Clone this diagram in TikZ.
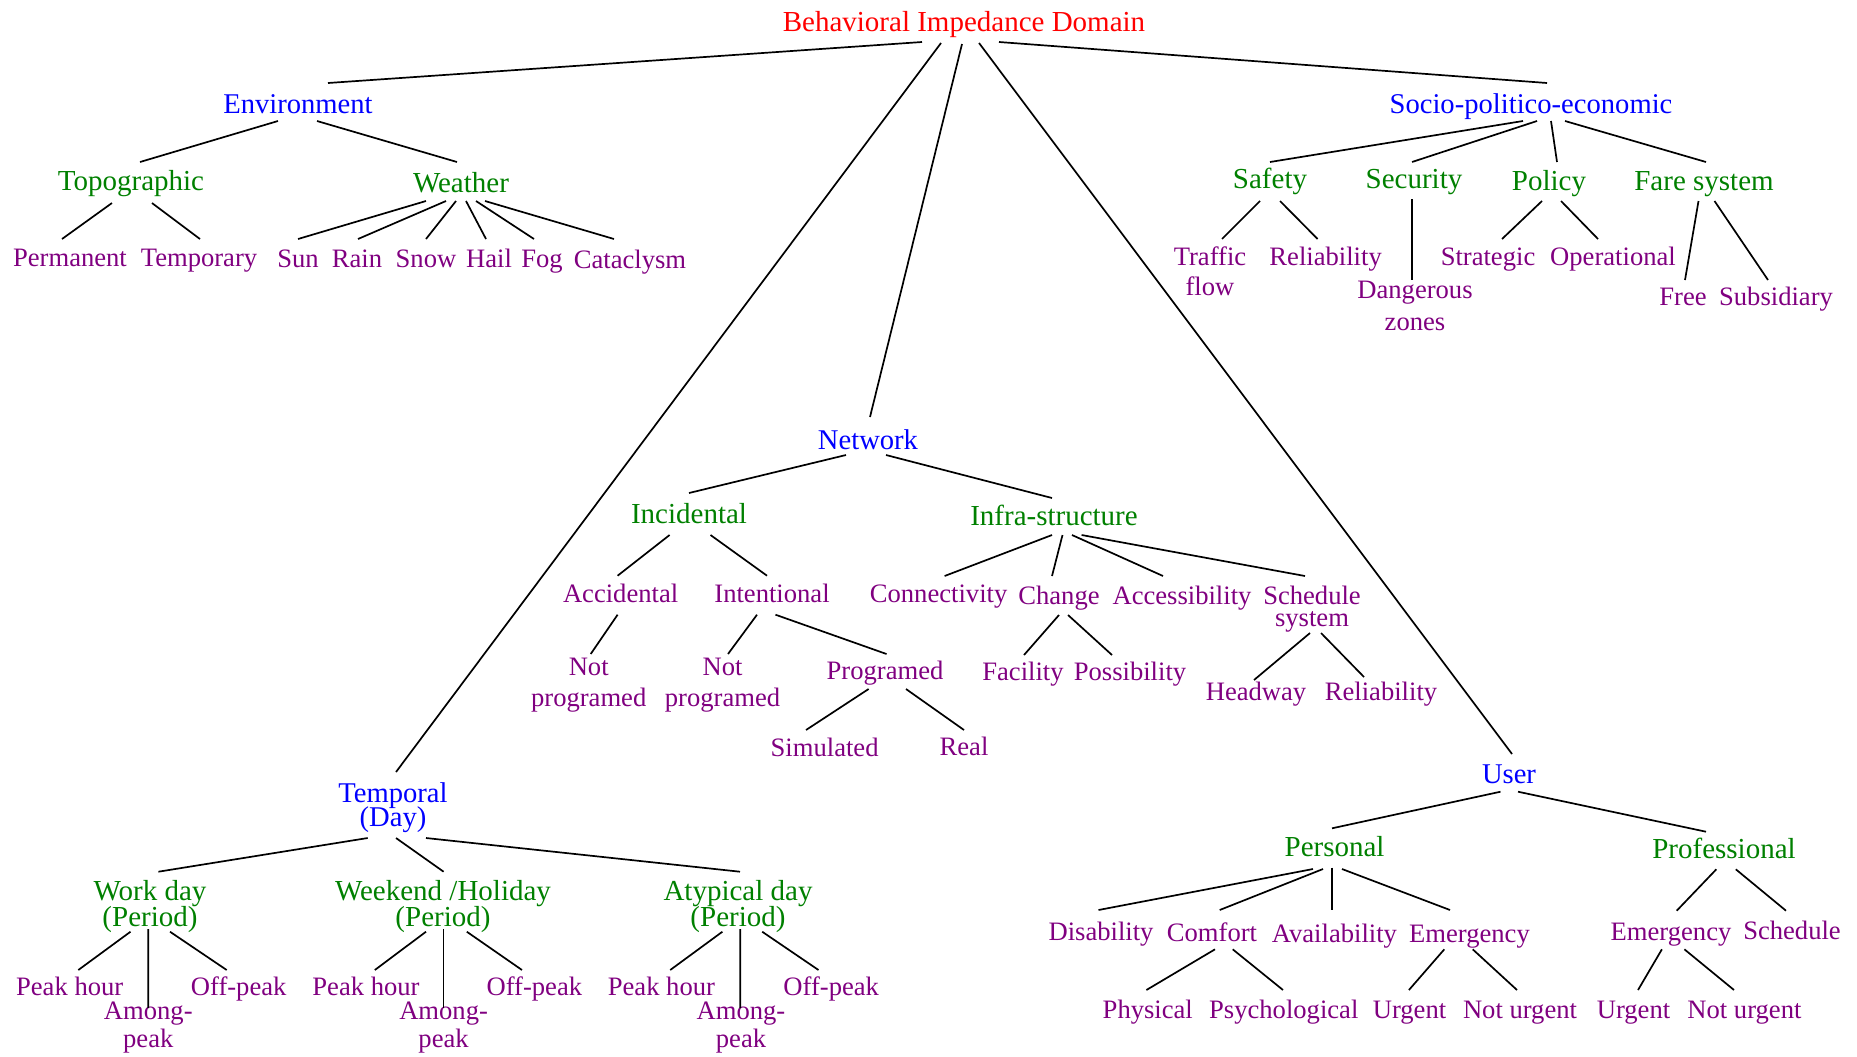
\documentclass[tikz,border=0pt]{standalone}
\usepackage{fontspec}
\setmainfont{Liberation Serif}
\usetikzlibrary{calc}
\definecolor{grn}{RGB}{0,128,0}
\definecolor{pur}{RGB}{128,0,128}
\newcommand\ml[3]{\vtop{\baselineskip=#3pt\lineskiplimit=-100pt\lineskip=0pt\tabskip=0pt\halign{\hfil##\hfil\cr #1\cr #2\cr}}}
\newcommand\edg[6]{\draw[edge] ($(#1.base)+(#2,#3)$) -- ($(#4.base)+(#5,#6)$);}
\tikzset{
  lbl/.style={inner sep=0pt, anchor=base},
  rootn/.style={lbl, text=red, font=\fontsize{14.5}{17}\selectfont},
  lone/.style={lbl, text=blue, font=\fontsize{14.3}{17}\selectfont},
  ltwo/.style={lbl, text=grn, font=\fontsize{14.5}{17}\selectfont},
  leaf/.style={lbl, text=pur, font=\fontsize{13.3}{16}\selectfont},
  edge/.style={line width=0.85pt, draw=black}
}
\begin{document}
\begin{tikzpicture}[x=0.5pt,y=-0.5pt]
\useasboundingbox (0,0) rectangle (1857,1056);
% root and level 1
\node[rootn] (root) at (964,31) {Behavioral Impedance Domain};
\node[lone] (env) at (298,113) {Environment};
\node[lone] (socio) at (1531,113) {Socio-politico-economic};
\node[lone] (net) at (868,449) {Network};
\node[lone] (tempo) at (393,802.7) {\ml{Temporal}{(Day)}{12}};
\node[lone] (user) at (1509,783.3) {User};
% environment
\node[ltwo] (topo) at (131,190) {Topographic};
\node[ltwo] (weather) at (461,192) {Weather};
\node[leaf] (perm) at (70,266) {Permanent};
\node[leaf] (temp) at (199,266) {Temporary};
\node[leaf] (sun) at (298,267.5) {Sun};
\node[leaf] (rain) at (357,267.5) {Rain};
\node[leaf] (snow) at (426,267.5) {Snow};
\node[leaf] (hail) at (489,267.5) {Hail};
\node[leaf] (fog) at (542,267.5) {Fog};
\node[leaf] (cata) at (630,268) {Cataclysm};
% socio
\node[ltwo] (safety) at (1270,188) {Safety};
\node[ltwo] (security) at (1414,188) {Security};
\node[ltwo] (policy) at (1549,190) {Policy};
\node[ltwo] (fare) at (1704,190) {Fare system};
\node[leaf] (traffic) at (1210,265) {\ml{Traffic}{flow}{15}};
\node[leaf] (rel1) at (1325.6,265) {Reliability};
\node[leaf] (danger) at (1415,298) {\ml{Dangerous}{zones}{16}};
\node[leaf] (strat) at (1488,265) {Strategic};
\node[leaf] (oper) at (1613,265) {Operational};
\node[leaf] (free) at (1683,305) {Free};
\node[leaf] (subs) at (1776,305) {Subsidiary};
% network
\node[ltwo] (incid) at (689,523) {Incidental};
\node[ltwo] (infra) at (1054,525) {Infra-structure};
\node[leaf] (accid) at (620.6,602.7) {Accidental};
\node[leaf] (inten) at (772,602.7) {Intentional};
\node[leaf] (conn) at (938.6,602.7) {Connectivity};
\node[leaf] (change) at (1059,604) {Change};
\node[leaf] (access) at (1182,604) {Accessibility};
\node[leaf] (sched) at (1312,604) {\ml{Schedule}{system}{11.3}};
\node[leaf] (np1) at (588.7,675) {\ml{Not}{programed}{15.8}};
\node[leaf] (np2) at (722.5,675) {\ml{Not}{programed}{15.8}};
\node[leaf] (prog) at (885,679) {Programed};
\node[leaf] (facil) at (1023,680.7) {Facility};
\node[leaf] (poss) at (1130,680.7) {Possibility};
\node[leaf] (headway) at (1256,700) {Headway};
\node[leaf] (rel2) at (1381,700.7) {Reliability};
\node[leaf] (sim) at (824.6,756.7) {Simulated};
\node[leaf] (real) at (964,755) {Real};
% temporal
\node[ltwo] (work) at (150,900) {\ml{Work day}{(Period)}{13}};
\node[ltwo] (weekend) at (443,900) {\ml{Weekend /Holiday}{(Period)}{13}};
\node[ltwo] (atyp) at (738,900) {\ml{Atypical day}{(Period)}{13}};
\node[leaf] (ph1) at (69.7,995) {Peak hour};
\node[leaf] (ap1) at (148.3,1019.3) {\ml{Among-}{peak}{14.3}};
\node[leaf] (op1) at (238.7,995) {Off-peak};
\node[leaf] (ph2) at (366,995) {Peak hour};
\node[leaf] (ap2) at (443.6,1019.3) {\ml{Among-}{peak}{14.3}};
\node[leaf] (op2) at (534.4,995) {Off-peak};
\node[leaf] (ph3) at (661.4,995) {Peak hour};
\node[leaf] (ap3) at (741,1019.3) {\ml{Among-}{peak}{14.3}};
\node[leaf] (op3) at (831.2,995) {Off-peak};
% user
\node[ltwo] (pers) at (1334.6,856.7) {Personal};
\node[ltwo] (prof) at (1724,858.3) {Professional};
\node[leaf] (disab) at (1101,940) {Disability};
\node[leaf] (comfort) at (1212,941.7) {Comfort};
\node[leaf] (avail) at (1334.4,942) {Availability};
\node[leaf] (emerg) at (1469.5,942) {Emergency};
\node[leaf] (emerg2) at (1671,940) {Emergency};
\node[leaf] (schedp) at (1792,939.3) {Schedule};
\node[leaf] (phys) at (1147.8,1018) {Physical};
\node[leaf] (psych) at (1283.8,1018) {Psychological};
\node[leaf] (urg1) at (1409.5,1018) {Urgent};
\node[leaf] (nurg1) at (1520,1018) {Not urgent};
\node[leaf] (urg2) at (1633.5,1018) {Urgent};
\node[leaf] (nurg2) at (1744.4,1018) {Not urgent};
% edges
\edg{root}{-42}{11}{env}{30}{-30}
\edg{root}{-23}{12}{tempo}{3}{-30.7}
\edg{root}{-2}{13}{net}{2}{-32}
\edg{root}{15}{12}{user}{3}{-29.3}
\edg{root}{35}{11}{socio}{16}{-30}
\edg{env}{-20}{8}{topo}{9}{-28}
\edg{env}{19}{8}{weather}{-4}{-30}
\edg{topo}{-19}{13}{perm}{-8}{-27}
\edg{topo}{21}{13}{temp}{1}{-27}
\edg{weather}{-35}{9}{sun}{0}{-28.5}
\edg{weather}{-15}{9}{rain}{1}{-28.5}
\edg{weather}{-5}{9}{snow}{0}{-28.5}
\edg{weather}{5}{9}{hail}{-3}{-28.5}
\edg{weather}{15}{9}{fog}{-8}{-28.5}
\edg{weather}{24}{9}{cata}{-16}{-29}
\edg{socio}{-8}{8}{safety}{0}{-26}
\edg{socio}{6}{8}{security}{-2}{-26}
\edg{socio}{20}{8}{policy}{8}{-28}
\edg{socio}{34}{8}{fare}{2}{-28}
\edg{safety}{-10}{13}{traffic}{12}{-26}
\edg{safety}{10}{13}{rel1}{-8}{-26}
\edg{security}{-2}{11}{danger}{-3}{-18}
\edg{policy}{-7}{11}{strat}{14}{-26}
\edg{policy}{12}{11}{oper}{-15}{-26}
\edg{fare}{-5.5}{11}{free}{2}{-25}
\edg{fare}{10.5}{11}{subs}{-8}{-25}
\edg{net}{-22}{6}{incid}{0}{-30}
\edg{net}{18}{6}{infra}{-2}{-27}
\edg{incid}{-19.4}{12}{accid}{-3}{-27}
\edg{incid}{21.5}{12}{inten}{-5}{-27}
\edg{accid}{-3}{12}{np1}{2}{-21}
\edg{inten}{-15}{12}{np2}{5.5}{-21}
\edg{inten}{3.5}{12}{prog}{1.5}{-25}
\edg{prog}{-16.4}{10}{sim}{-18.6}{-26.7}
\edg{prog}{21}{10}{real}{0}{-25}
\edg{infra}{-2}{10}{conn}{6}{-26.7}
\edg{infra}{8.5}{10}{change}{-7}{-28}
\edg{infra}{18}{10}{access}{-19}{-28}
\edg{infra}{27.6}{10}{sched}{-7}{-28}
\edg{change}{0}{11}{facil}{1}{-25.7}
\edg{change}{9}{11}{poss}{-18}{-25.7}
\edg{sched}{-2}{29}{headway}{-2}{-20}
\edg{sched}{9}{29}{rel2}{-17}{-23.7}
\edg{tempo}{-25.3}{35.3}{work}{8.4}{-28.3}
\edg{tempo}{3}{35.3}{weekend}{0.6}{-28.3}
\edg{tempo}{33}{35.3}{atyp}{2}{-28.3}
\edg{work}{-19.5}{31.7}{ph1}{8.6}{-25}
\edg{work}{-1.7}{29}{ap1}{0}{-11.3}
\edg{work}{20}{31.7}{op1}{-12}{-25}
\edg{weekend}{-17}{31.7}{ph2}{8.8}{-25}
\edg{weekend}{0.6}{29}{ap2}{0}{-11.3}
\edg{weekend}{23.8}{31.7}{op2}{-12.4}{-25}
\edg{atyp}{-15.6}{31.7}{ph3}{8.8}{-25}
\edg{atyp}{2.2}{29}{ap3}{-0.8}{-11.3}
\edg{atyp}{24.2}{31.7}{op3}{-12.7}{-25}
\edg{user}{-8.5}{8.4}{pers}{-2.6}{-28.4}
\edg{user}{9}{8.4}{prof}{-18}{-26.6}
\edg{pers}{-21.6}{12.3}{disab}{-2.5}{-30}
\edg{pers}{-11.6}{12.3}{comfort}{7.7}{-31.7}
\edg{pers}{-2.6}{11}{avail}{-2.4}{-32}
\edg{pers}{7.4}{12.3}{emerg}{-19.5}{-32}
\edg{comfort}{3}{7.6}{phys}{-1.4}{-28}
\edg{comfort}{20.7}{7.6}{psych}{-0.8}{-28}
\edg{emerg}{-25.2}{7.3}{urg1}{-0.6}{-28}
\edg{emerg}{3.2}{7.3}{nurg1}{-3}{-28}
\edg{prof}{-7.7}{11}{emerg2}{5.7}{-29.3}
\edg{prof}{11.8}{11}{schedp}{-6}{-28.6}
\edg{emerg2}{-9.1}{9.3}{urg2}{4.5}{-28}
\edg{emerg2}{13.4}{9.3}{nurg2}{-10.4}{-28}
\end{tikzpicture}
\end{document}
